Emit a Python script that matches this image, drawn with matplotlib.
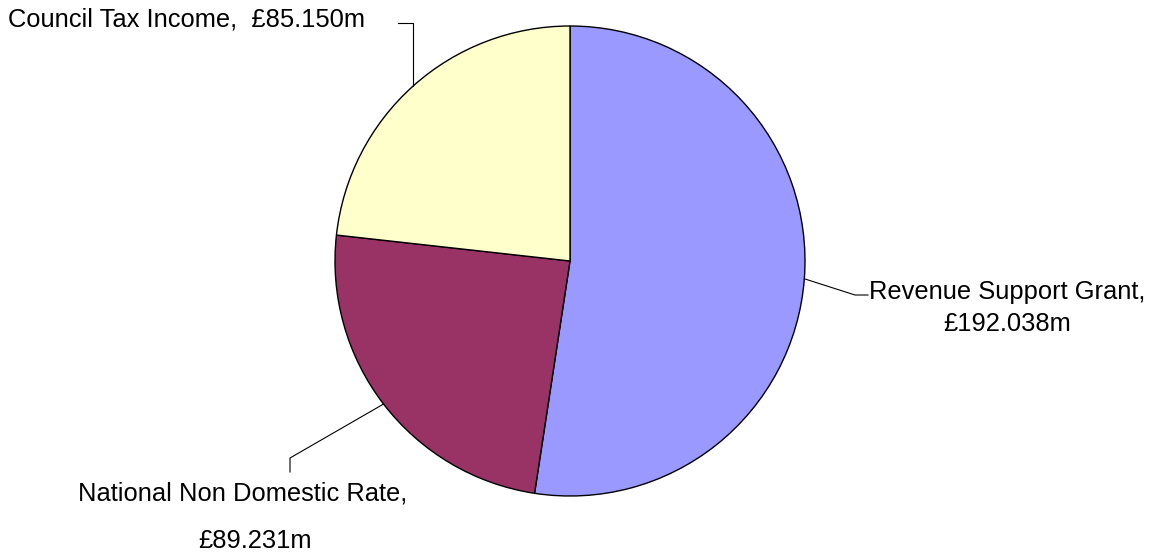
import numpy as np
import matplotlib
matplotlib.use("Agg")
import matplotlib.pyplot as plt

# data
names = ["Revenue Support Grant", "National Non Domestic Rate", "Council Tax Income"]
values = [192.038, 89.231, 85.150]
colours = ["#9999FF", "#993366", "#FFFFCC"]

W, H = 1152, 554
fig = plt.figure(figsize=(W / 100, H / 100), dpi=100)
ax = fig.add_axes([0, 0, 1, 1])
ax.set_aspect("equal")

plt.rcParams["font.family"] = ["Liberation Sans", "DejaVu Sans"]
fs = 18.4

cx, cy, r = 570, H - 261, 235
wedges, _ = ax.pie(values, colors=colours, startangle=90, counterclock=False,
                   center=(cx, cy), radius=r, frame=True,
                   wedgeprops=dict(edgecolor="black", linewidth=1.0))
ax.set_xlim(0, W)
ax.set_ylim(0, H)
ax.axis("off")


def anchor(w):
    a = np.deg2rad((w.theta1 + w.theta2) / 2)
    return cx + r * np.cos(a), cy + r * np.sin(a)


lw = 0.8
# Revenue Support Grant
x0, y0 = anchor(wedges[0])
ax.plot([x0, 855, 868], [y0, H - 295, H - 295], color="black", lw=lw)
ax.text(1007, H - 308, "%s,\n£%.3fm" % (names[0], values[0]), ha="center", va="center",
        fontsize=fs, linespacing=1.4)

# National Non Domestic Rate
x0, y0 = anchor(wedges[1])
ax.plot([x0, 290, 290], [y0, H - 458, H - 472], color="black", lw=lw)
ax.text(243, H - 493, names[1] + ",", ha="center", va="center", fontsize=fs)
ax.text(255, H - 541, "£%.3fm" % values[1], ha="center", va="center", fontsize=fs)

# Council Tax Income
x0, y0 = anchor(wedges[2])
ax.plot([x0, x0, 398], [y0, H - 23, H - 23], color="black", lw=lw)
ax.text(8, H - 19, "%s,  £%.3fm" % (names[2], values[2]), ha="left", va="center", fontsize=fs)

fig.savefig("out.png", dpi=100, facecolor="white")
